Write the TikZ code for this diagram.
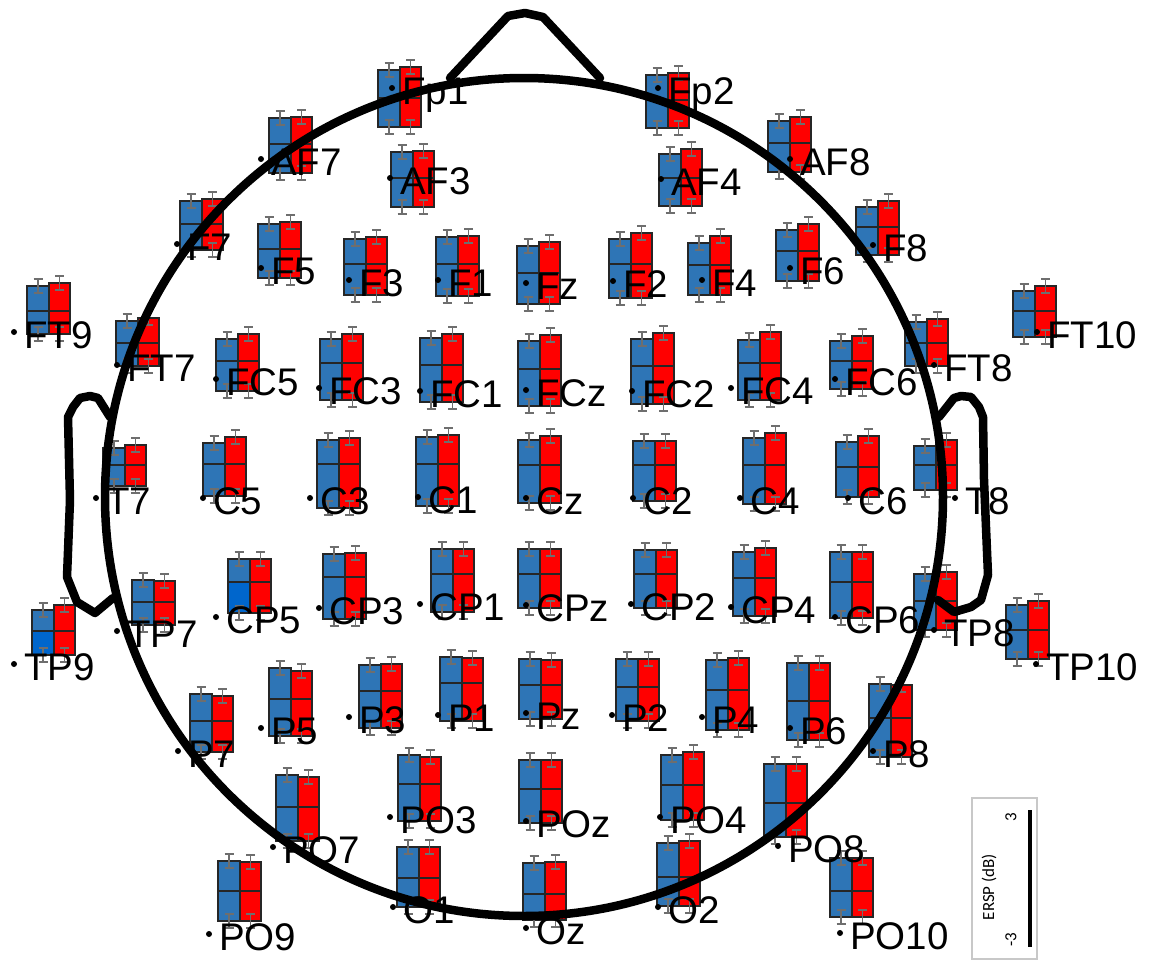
\documentclass[tikz,border=0pt]{standalone}
\usepackage{fontspec}
\setmainfont{Liberation Sans}
\newfontfamily\legfont{Carlito}
\definecolor{bblue}{HTML}{2E75B6}
\definecolor{bright}{HTML}{0066CC}
\definecolor{rred}{HTML}{FF0000}
\definecolor{errg}{HTML}{6E6E6E}
\definecolor{legframe}{HTML}{C8C8C8}
\tikzset{
  boxline/.style={draw=black!85, line width=1.3pt},
  errbar/.style={draw=errg, line width=1.5pt},
  head/.style={draw=black, line width=8.5pt, line join=round, line cap=round},
  lab/.style={anchor=base west, inner sep=0pt, font=\fontsize{38.5}{42}\selectfont},
  legtxt/.style={inner sep=0pt, font=\legfont\fontsize{17}{19}\selectfont, rotate=90}
}
\newcommand\ebar[2]{%
  \draw[errbar] (#1,#2-7) -- (#1,#2+7) (#1-4.5,#2-7) -- (#1+4.5,#2-7) (#1-4.5,#2+7) -- (#1+4.5,#2+7);}
\def\elecs{Fp1/392/88/378/70/67/127/98/bblue,
Fp2/658/88/646/75/73/128/100/bblue,
AF7/261/159/269/118/117/173/144/bblue,
AF3/390/178/391/152/151/207/178/bblue,
AF4/661/179/659/154/149/206/178/bblue,
AF8/790/159/768/121/117/172/143/bblue,
F7/177/244/180/201/199/250/224/bblue,
F5/261/268/258/224/222/278/249/bblue,
F3/349/280/344/239/237/295/264/bblue,
F1/438/280/436/237/236/296/264/bblue,
Fz/526/283/517/246/242/304/273/bblue,
F2/613/281/609/239/233/298/264/bblue,
F4/702/280/688/243/236/295/265/bblue,
F6/790/268/776/230/224/281/251/bblue,
F8/873/245/856/207/201/255/227/bblue,
FT9/14/332/27/286/283/334/311/bblue,
FT7/117/365/116/321/318/366/343/bblue,
FC5/216/379/216/339/334/391/361/bblue,
FC3/319/388/320/339/334/400/363/bblue,
FC1/420/391/420/338/334/402/365/bblue,
FCz/526/390/518/341/335/406/369/bblue,
FC2/632/391/631/339/333/404/366/bblue,
FC4/731/388/738/340/332/400/363/bblue,
FC6/835/379/830/341/336/389/361/bblue,
FT8/934/365/905/322/319/366/343/bblue,
FT10/1037/332/1013/291/286/337/311/bblue,
T7/96/498/103/448/445/486/465/bblue,
C5/203/498/203/443/437/496/464/bblue,
C3/310/498/317/440/438/508/464/bblue,
C1/418/497/416/437/435/506/464/bblue,
Cz/526/498/518/440/436/503/465/bblue,
C2/633/498/633/441/441/501/465/bblue,
C4/740/498/743/438/433/504/465/bblue,
C6/848/498/836/442/436/497/467/bblue,
T8/955/498/914/446/440/490/465/bblue,
TP9/14/664/32/610/605/655/631/bright,
TP7/117/631/132/580/581/625/602/bblue,
CP5/216/617/228/559/559/613/582/bright,
CP3/319/608/323/554/553/619/577/bblue,
CP1/420/604/431/549/549/612/574/bblue,
CPz/526/605/518/549/549/608/574/bblue,
CP2/631/604/634/550/550/608/574/bblue,
CP4/731/607/733/552/548/616/578/bblue,
CP6/835/617/830/552/552/618/582/bblue,
TP8/934/630/914/574/572/630/601/bblue,
TP10/1036/664/1006/605/601/659/630/bblue,
P7/178/751/190/694/696/752/721/bblue,
P5/261/728/269/668/671/736/699/bblue,
P3/349/717/359/665/664/728/691/bblue,
P1/438/715/440/657/658/721/683/bblue,
Pz/526/713/519/659/660/719/685/bblue,
P2/612/715/616/659/659/721/687/bblue,
P4/702/717/706/660/658/730/690/bblue,
P6/790/728/787/663/663/740/701/bblue,
P8/873/751/869/684/685/757/718/bblue,
PO7/273/847/276/775/777/841/807/bblue,
PO3/390/817/398/755/757/821/784/bblue,
POz/526/821/519/760/760/823/789/bblue,
PO4/660/817/661/755/752/820/785/bblue,
PO8/778/846/764/764/764/837/803/bblue,
PO9/209/934/218/861/862/921/891/bblue,
O1/393/907/397/847/847/907/878/bblue,
Oz/526/928/523/863/862/920/894/bblue,
O2/658/907/657/843/841/906/877/bblue,
PO10/840/933/830/858/858/917/891/bblue}
\begin{document}
\begin{tikzpicture}[x=1pt,y=-1pt]
\useasboundingbox[fill=white] (0,0) rectangle (1151,961);
% bar pairs
\foreach \n/\dx/\dy/\L/\bt/\rt/\bo/\dv/\lc in \elecs {
  \fill[bblue] (\L,\bt) rectangle (\L+22,\dv);
  \fill[\lc] (\L,\dv) rectangle (\L+22,\bo);
  \fill[rred] (\L+22,\rt) rectangle (\L+43,\bo);
  \draw[boxline] (\L,\bt) rectangle (\L+22,\bo) (\L+22,\rt) rectangle (\L+43,\bo) (\L,\dv) -- (\L+43,\dv);
  \ebar{\L+11}{\bt}
  \ebar{\L+11}{\bo}
  \ebar{\L+32.5}{\rt}
  \ebar{\L+32.5}{\bo}
}
% head outline
\draw[head] (524,497) circle[radius=419pt];
\draw[head] (450,78) -- (508,16) -- (525,13) -- (543,17) -- (600,78);
\draw[head] (110,417) -- (98,398) -- (90,396) -- (80,398) -- (73,407) -- (68,417) -- (70,500) -- (67,577) -- (77,602) -- (95,613) -- (113,598);
\draw[head] (939,417) -- (954,398) -- (961,396) -- (971,397) -- (979,407) -- (983,417) -- (984,480) -- (988,575) -- (981,600) -- (971,607) -- (954,612) -- (938,600);
% electrode dots and labels
\foreach \n/\dx/\dy/\L/\bt/\rt/\bo/\dv/\lc in \elecs {
  \fill[black] (\dx,\dy) circle[radius=3pt];
  \node[lab] (\n) at (\dx+10,\dy+16) {\n};
}
% legend
\draw[legframe, line width=1.2pt] (972,798) rectangle (1037,959);
\coordinate (bartop) at (1030,810);
\coordinate (barbot) at (1030,947);
\draw[line width=4.5pt] (bartop) -- (barbot);
\node[legtxt] (lg3) at (1011,817) {3};
\node[legtxt] (lgm3) at (1011,940) {-3};
\node[legtxt] (lgttl) at (989,887) {ERSP (dB)};
\end{tikzpicture}
\end{document}
